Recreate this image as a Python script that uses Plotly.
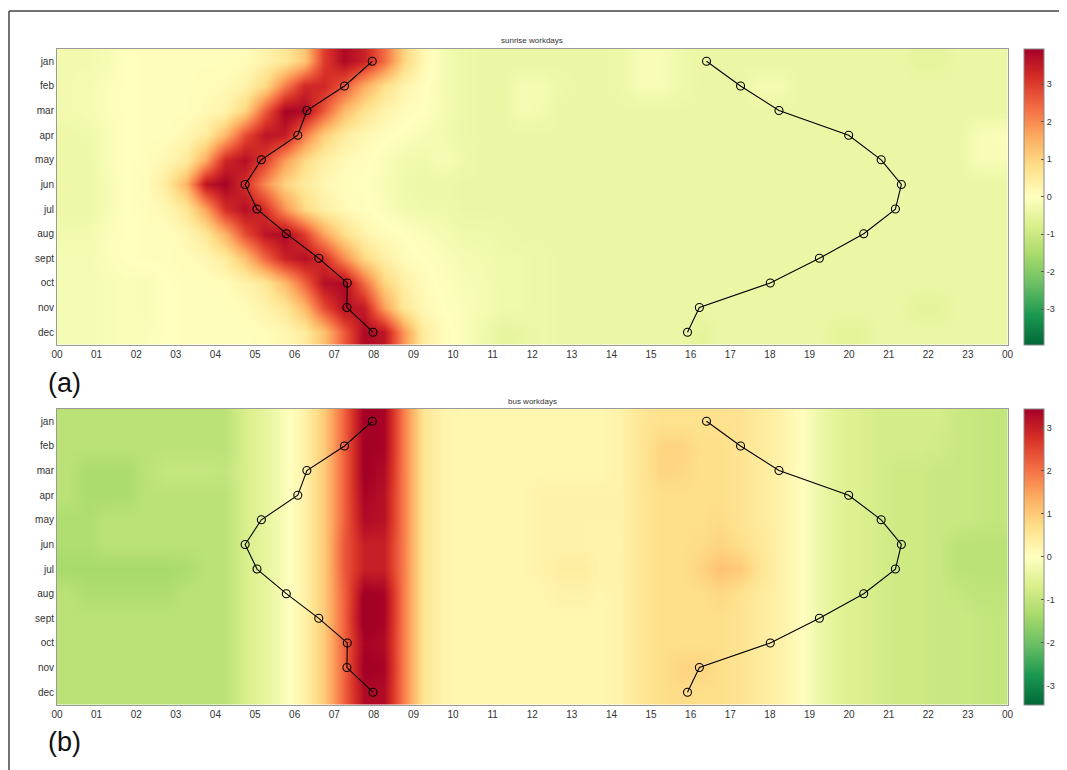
import plotly.graph_objects as go

# ---------------- data ----------------
MONTHS = ["jan", "feb", "mar", "apr", "may", "jun", "jul", "aug", "sept", "oct", "nov", "dec"]
HOUR_TICKS = [0, 1, 2, 3, 4, 5, 6, 7, 8, 9, 10, 11, 12, 13, 14, 15, 16, 17, 18, 19, 20, 21, 22, 23, 24]
HOUR_LABELS = ["00", "01", "02", "03", "04", "05", "06", "07", "08", "09", "10", "11",
               "12", "13", "14", "15", "16", "17", "18", "19", "20", "21", "22", "23", "00"]

SUNRISE = [7.96, 7.26, 6.31, 6.08, 5.16, 4.75, 5.05, 5.79, 6.61, 7.33, 7.32, 7.98]
SUNSET = [16.40, 17.26, 18.23, 19.99, 20.81, 21.32, 21.17, 20.37, 19.25, 18.01, 16.22, 15.92]

CBAR_TICKS = [-3, -2, -1, 0, 1, 2, 3]
CBAR_LABELS = ["-3", "-2", "-1", "0", "1", "2", "3"]

# half-hour cells, starting at 00:00 (12 months x 48 cells)
SUNRISE_Z = [
    [-0.25, -0.25, -0.2, 0.0, 0.05, 0.05, 0.05, 0.05, 0.05, 0.1, 0.3, 0.6, 1.2, 3.0, 3.8, 3.4, 2.4, 1.0, 0.2, -0.2,
     -0.35, -0.4, -0.4, -0.4, -0.4, -0.4, -0.4, -0.4, -0.35, -0.15, -0.15, -0.3,
     -0.4, -0.4, -0.4, -0.4, -0.4, -0.4, -0.4, -0.4, -0.4, -0.4, -0.4, -0.5, -0.5, -0.4, -0.4, -0.4],
    [-0.25, -0.2, -0.1, 0.0, 0.05, 0.05, 0.05, 0.1, 0.15, 0.3, 0.9, 2.2, 3.3, 3.3, 2.6, 1.6, 0.8, 0.3, 0.05, -0.2,
     -0.35, -0.4, -0.4, -0.2, -0.2, -0.35, -0.4, -0.4, -0.35, -0.15, -0.15, -0.3,
     -0.4, -0.4, -0.4, -0.2, -0.2, -0.4, -0.4, -0.4, -0.4, -0.4, -0.4, -0.4, -0.4, -0.4, -0.4, -0.4],
    [-0.25, -0.2, -0.1, 0.0, 0.05, 0.05, 0.05, 0.15, 0.3, 1.0, 2.6, 3.9, 3.8, 2.6, 1.4, 0.7, 0.3, 0.1, 0.0, -0.2,
     -0.35, -0.4, -0.4, -0.2, -0.25, -0.4, -0.4, -0.4, -0.4, -0.4, -0.4, -0.4,
     -0.4, -0.4, -0.4, -0.4, -0.4, -0.4, -0.4, -0.4, -0.4, -0.4, -0.4, -0.4, -0.4, -0.4, -0.4, -0.4],
    [-0.35, -0.3, -0.15, 0.0, 0.05, 0.05, 0.2, 0.5, 1.4, 2.8, 3.6, 3.5, 2.2, 1.1, 0.5, 0.2, 0.05, -0.05, -0.15, -0.25,
     -0.35, -0.4, -0.4, -0.4, -0.4, -0.4, -0.4, -0.4, -0.4, -0.4, -0.4, -0.4,
     -0.4, -0.4, -0.4, -0.4, -0.4, -0.4, -0.4, -0.4, -0.4, -0.4, -0.4, -0.4, -0.4, -0.4, -0.15, -0.1],
    [-0.35, -0.35, -0.15, 0.0, 0.05, 0.2, 0.5, 1.6, 3.3, 3.7, 3.0, 1.8, 0.9, 0.4, 0.15, 0.05, -0.1, -0.25, -0.3, -0.15,
     -0.3, -0.4, -0.4, -0.4, -0.4, -0.4, -0.4, -0.4, -0.4, -0.4, -0.4, -0.4,
     -0.4, -0.4, -0.4, -0.4, -0.4, -0.4, -0.4, -0.4, -0.4, -0.4, -0.4, -0.4, -0.4, -0.4, -0.15, -0.15],
    [-0.35, -0.35, -0.2, 0.0, 0.1, 0.5, 1.5, 3.6, 3.9, 3.2, 2.0, 1.0, 0.5, 0.2, 0.05, 0.0, -0.15, -0.3, -0.35, -0.35,
     -0.4, -0.4, -0.4, -0.4, -0.4, -0.4, -0.4, -0.4, -0.4, -0.4, -0.4, -0.4,
     -0.4, -0.4, -0.4, -0.4, -0.4, -0.4, -0.4, -0.4, -0.4, -0.4, -0.4, -0.4, -0.4, -0.4, -0.4, -0.4],
    [-0.35, -0.35, -0.2, 0.0, 0.05, 0.2, 0.6, 1.7, 3.2, 3.7, 3.2, 1.9, 0.9, 0.4, 0.15, 0.05, -0.1, -0.25, -0.3, -0.3,
     -0.4, -0.4, -0.4, -0.4, -0.4, -0.4, -0.4, -0.4, -0.4, -0.4, -0.4, -0.4,
     -0.4, -0.4, -0.4, -0.4, -0.4, -0.4, -0.4, -0.4, -0.4, -0.4, -0.4, -0.4, -0.4, -0.4, -0.4, -0.4],
    [-0.25, -0.25, -0.1, 0.0, 0.05, 0.05, 0.2, 0.6, 1.5, 2.8, 3.6, 3.8, 3.0, 1.7, 0.8, 0.3, 0.1, 0.0, -0.1, -0.2,
     -0.3, -0.3, -0.35, -0.4, -0.4, -0.4, -0.4, -0.4, -0.4, -0.4, -0.4, -0.4,
     -0.4, -0.4, -0.4, -0.4, -0.4, -0.4, -0.4, -0.4, -0.4, -0.4, -0.4, -0.4, -0.4, -0.4, -0.4, -0.4],
    [-0.2, -0.2, -0.1, 0.0, 0.05, 0.05, 0.1, 0.2, 0.5, 1.3, 2.5, 3.4, 3.7, 3.2, 2.0, 0.9, 0.4, 0.1, 0.0, -0.1,
     -0.2, -0.25, -0.3, -0.3, -0.35, -0.4, -0.4, -0.4, -0.4, -0.4, -0.4, -0.4,
     -0.4, -0.4, -0.4, -0.4, -0.4, -0.4, -0.4, -0.4, -0.4, -0.4, -0.4, -0.4, -0.4, -0.4, -0.4, -0.4],
    [-0.2, -0.2, -0.15, -0.1, -0.15, 0.0, 0.05, 0.05, 0.1, 0.3, 0.6, 1.4, 2.5, 3.7, 3.8, 2.4, 1.0, 0.4, 0.1, -0.05,
     -0.15, -0.2, -0.3, -0.3, -0.35, -0.4, -0.4, -0.4, -0.4, -0.4, -0.4, -0.4,
     -0.4, -0.4, -0.4, -0.4, -0.4, -0.4, -0.4, -0.4, -0.4, -0.4, -0.4, -0.4, -0.4, -0.4, -0.4, -0.4],
    [-0.2, -0.2, -0.15, -0.1, -0.15, 0.0, 0.05, 0.05, 0.05, 0.1, 0.3, 0.6, 1.4, 2.8, 3.7, 3.5, 1.8, 0.6, 0.2, 0.0,
     -0.1, -0.2, -0.3, -0.3, -0.35, -0.4, -0.4, -0.4, -0.4, -0.4, -0.4, -0.4,
     -0.4, -0.4, -0.4, -0.4, -0.4, -0.4, -0.4, -0.4, -0.4, -0.4, -0.4, -0.55, -0.55, -0.4, -0.4, -0.4],
    [-0.2, -0.2, -0.15, -0.1, -0.1, 0.0, 0.05, 0.05, 0.05, 0.05, 0.1, 0.2, 0.5, 1.3, 2.6, 3.8, 3.6, 1.9, 0.5, 0.1,
     -0.1, -0.3, -0.5, -0.45, -0.35, -0.4, -0.4, -0.4, -0.4, -0.4, -0.4, -0.4,
     -0.55, -0.4, -0.4, -0.4, -0.4, -0.4, -0.4, -0.55, -0.55, -0.4, -0.4, -0.4, -0.4, -0.4, -0.4, -0.4],
]

BUS_Z = [
    [-1.1, -1.1, -1.1, -1.1, -1.1, -1.1, -1.1, -1.1, -1.1, -0.7, -0.45, -0.1, 0.3, 1.0, 2.2, 3.5, 3.4, 1.9, 0.6, 0.25,
     0.2, 0.2, 0.2, 0.2, 0.2, 0.2, 0.2, 0.2,
     0.3, 0.55, 0.65, 0.65, 0.65, 0.65, 0.6, 0.45, 0.3, 0.05, -0.3, -0.55, -0.65, -0.75, -0.75, -0.75, -0.75, -0.9, -0.95, -1.0],
    [-1.1, -1.1, -1.1, -1.1, -1.1, -1.1, -1.1, -1.1, -1.1, -0.7, -0.45, -0.1, 0.3, 1.0, 2.2, 3.5, 3.4, 1.9, 0.6, 0.25,
     0.2, 0.2, 0.2, 0.2, 0.2, 0.2, 0.2, 0.2,
     0.3, 0.55, 0.85, 0.85, 0.7, 0.7, 0.6, 0.45, 0.3, 0.05, -0.3, -0.55, -0.65, -0.75, -0.75, -0.75, -0.8, -0.9, -0.95, -1.0],
    [-1.1, -1.3, -1.3, -1.3, -1.1, -0.95, -0.95, -0.95, -1.0, -0.7, -0.45, -0.1, 0.3, 1.0, 2.2, 3.5, 3.3, 1.9, 0.6, 0.25,
     0.2, 0.2, 0.2, 0.2, 0.2, 0.2, 0.2, 0.2,
     0.3, 0.55, 0.85, 0.8, 0.7, 0.7, 0.6, 0.45, 0.3, 0.05, -0.3, -0.55, -0.65, -0.75, -0.85, -0.85, -0.9, -0.9, -0.95, -1.0],
    [-1.1, -1.3, -1.3, -1.3, -1.1, -1.1, -1.1, -1.1, -1.1, -0.7, -0.45, -0.1, 0.3, 1.0, 2.2, 3.4, 3.2, 1.9, 0.6, 0.25,
     0.2, 0.2, 0.2, 0.2, 0.3, 0.3, 0.3, 0.3,
     0.3, 0.55, 0.7, 0.7, 0.7, 0.7, 0.6, 0.45, 0.3, 0.05, -0.3, -0.55, -0.65, -0.75, -0.85, -0.85, -0.9, -0.9, -0.95, -1.0],
    [-1.25, -1.25, -1.1, -1.1, -1.1, -1.1, -1.1, -1.1, -1.1, -0.7, -0.45, -0.1, 0.3, 1.0, 2.2, 3.3, 3.2, 1.9, 0.6, 0.25,
     0.2, 0.2, 0.2, 0.2, 0.3, 0.3, 0.3, 0.3,
     0.3, 0.55, 0.7, 0.7, 0.7, 0.75, 0.6, 0.45, 0.3, 0.05, -0.3, -0.55, -0.65, -0.75, -0.85, -0.85, -0.9, -0.9, -0.95, -1.0],
    [-1.25, -1.25, -1.1, -1.1, -1.1, -1.1, -1.1, -1.1, -1.1, -0.7, -0.45, -0.1, 0.3, 1.0, 2.3, 3.0, 3.0, 1.9, 0.6, 0.25,
     0.2, 0.2, 0.2, 0.2, 0.3, 0.3, 0.3, 0.25,
     0.3, 0.55, 0.7, 0.7, 0.75, 0.85, 0.7, 0.5, 0.3, 0.05, -0.3, -0.55, -0.65, -0.75, -0.85, -0.85, -0.9, -1.1, -1.1, -1.1],
    [-1.35, -1.35, -1.35, -1.35, -1.35, -1.35, -1.3, -1.1, -1.1, -0.7, -0.45, -0.1, 0.3, 1.0, 2.3, 3.0, 3.0, 1.9, 0.6, 0.25,
     0.2, 0.2, 0.2, 0.2, 0.3, 0.4, 0.4, 0.3,
     0.3, 0.55, 0.7, 0.7, 0.85, 1.1, 1.0, 0.6, 0.3, 0.05, -0.3, -0.55, -0.65, -0.75, -0.85, -0.85, -0.9, -1.1, -1.1, -1.1],
    [-1.1, -1.25, -1.25, -1.25, -1.25, -1.25, -1.1, -1.1, -1.1, -0.7, -0.45, -0.1, 0.3, 1.0, 2.2, 3.5, 3.4, 1.9, 0.6, 0.25,
     0.2, 0.2, 0.2, 0.2, 0.2, 0.3, 0.3, 0.2,
     0.3, 0.55, 0.7, 0.7, 0.7, 0.8, 0.65, 0.45, 0.3, 0.05, -0.3, -0.55, -0.65, -0.75, -0.85, -0.85, -0.9, -0.95, -1.05, -1.05],
    [-1.1, -1.1, -1.1, -1.1, -1.1, -1.1, -1.1, -1.1, -1.1, -0.7, -0.45, -0.1, 0.3, 1.0, 2.2, 3.6, 3.4, 1.9, 0.6, 0.25,
     0.2, 0.2, 0.2, 0.2, 0.2, 0.2, 0.2, 0.2,
     0.3, 0.55, 0.7, 0.7, 0.7, 0.7, 0.6, 0.45, 0.3, 0.05, -0.3, -0.55, -0.65, -0.75, -0.85, -0.85, -0.9, -0.9, -0.95, -1.0],
    [-1.1, -1.1, -1.1, -1.1, -1.1, -1.1, -1.1, -1.1, -1.1, -0.7, -0.45, -0.1, 0.3, 1.0, 2.2, 3.4, 3.3, 1.9, 0.6, 0.25,
     0.2, 0.2, 0.2, 0.2, 0.2, 0.2, 0.2, 0.2,
     0.3, 0.55, 0.7, 0.7, 0.7, 0.7, 0.6, 0.45, 0.3, 0.05, -0.3, -0.55, -0.65, -0.75, -0.85, -0.85, -0.9, -0.9, -0.95, -1.0],
    [-1.1, -1.1, -1.1, -1.1, -1.1, -1.1, -1.1, -1.1, -1.1, -0.7, -0.45, -0.1, 0.3, 1.0, 2.2, 3.5, 3.4, 1.9, 0.6, 0.25,
     0.2, 0.2, 0.2, 0.2, 0.2, 0.2, 0.2, 0.2,
     0.3, 0.55, 0.7, 0.85, 0.85, 0.7, 0.6, 0.45, 0.3, 0.05, -0.3, -0.55, -0.65, -0.75, -0.85, -0.85, -0.9, -0.9, -0.95, -1.0],
    [-1.1, -1.1, -1.1, -1.1, -1.1, -1.1, -1.1, -1.1, -1.1, -0.7, -0.45, -0.1, 0.3, 1.0, 2.2, 3.3, 3.3, 1.9, 0.6, 0.25,
     0.2, 0.2, 0.2, 0.2, 0.2, 0.2, 0.2, 0.2,
     0.3, 0.55, 0.7, 0.75, 0.7, 0.7, 0.6, 0.45, 0.3, 0.05, -0.3, -0.55, -0.65, -0.75, -0.85, -0.85, -0.9, -0.9, -0.95, -1.0],
]

# ---------------- styling ----------------
# The page body adds an 8px margin, so the figure is drawn 8px in from the
# window edge; all reference pixel positions are shifted by that offset.
OFF = 8
W, H = 1067 - OFF, 770 - OFF


def px(x):
    return (x - OFF) / W


def py(y):
    return 1 - (y - OFF) / H


COLORSCALE = [
    [0.0, "rgb(0,104,55)"], [0.1, "rgb(26,152,80)"], [0.2, "rgb(102,189,99)"],
    [0.3, "rgb(166,217,106)"], [0.4, "rgb(217,239,139)"], [0.5, "rgb(255,255,191)"],
    [0.6, "rgb(254,224,139)"], [0.7, "rgb(253,174,97)"], [0.8, "rgb(244,109,67)"],
    [0.9, "rgb(215,48,39)"], [1.0, "rgb(165,0,38)"],
]
FONT = "Liberation Sans, Arial, sans-serif"
TXT = "#333333"

XDOM = [px(57), px(1007.5)]
YDOM_A = [py(344.5), py(49)]
YDOM_B = [py(704.5), py(409)]
CB_X = px(1023.5)


def colorbar(dom):
    return dict(
        x=CB_X, xanchor="left", xpad=0, ypad=0,
        y=(dom[0] + dom[1]) / 2, yanchor="middle",
        len=dom[1] - dom[0], lenmode="fraction", thickness=20,
        outlinecolor="#888888", outlinewidth=1,
        tickvals=CBAR_TICKS, ticktext=CBAR_LABELS,
        ticks="inside", ticklen=3, tickcolor="#555555",
        tickfont=dict(size=9, color=TXT, family=FONT),
    )


fig = go.Figure()

for z, zr, xa, ya, dom in [(SUNRISE_Z, 3.95, "x", "y", YDOM_A), (BUS_Z, 3.45, "x2", "y2", YDOM_B)]:
    fig.add_trace(go.Heatmap(
        z=z, x0=0.25, dx=0.5, y=MONTHS, zsmooth="best",
        zmin=-zr, zmax=zr, colorscale=COLORSCALE,
        colorbar=colorbar(dom), xaxis=xa, yaxis=ya, hoverinfo="skip",
    ))
    for series in (SUNRISE, SUNSET):
        fig.add_trace(go.Scatter(
            x=series, y=MONTHS, mode="lines+markers", xaxis=xa, yaxis=ya,
            line=dict(color="black", width=1.1),
            marker=dict(symbol="circle-open", size=8, color="black", line=dict(width=1.1)),
            showlegend=False, hoverinfo="skip",
        ))

axis_common = dict(showline=True, mirror=True, linecolor="#9a9a9a", linewidth=1,
                   showgrid=False, zeroline=False, ticks="", automargin=False,
                   tickfont=dict(size=10, color=TXT, family=FONT))

fig.update_layout(
    width=W, height=H, autosize=False,
    margin=dict(l=0, r=0, t=0, b=0),
    paper_bgcolor="white", plot_bgcolor="white",
    font=dict(family=FONT, color=TXT),
    showlegend=False,
    xaxis=dict(domain=XDOM, anchor="y", range=[0, 24], tickvals=HOUR_TICKS, ticktext=HOUR_LABELS, **axis_common),
    yaxis=dict(domain=YDOM_A, anchor="x", type="category", categoryorder="array", categoryarray=MONTHS,
               range=[11.5, -0.5], **axis_common),
    xaxis2=dict(domain=XDOM, anchor="y2", range=[0, 24], tickvals=HOUR_TICKS, ticktext=HOUR_LABELS, **axis_common),
    yaxis2=dict(domain=YDOM_B, anchor="x2", type="category", categoryorder="array", categoryarray=MONTHS,
                range=[11.5, -0.5], **axis_common),
)

xc = (XDOM[0] + XDOM[1]) / 2
fig.add_annotation(text="sunrise workdays", x=xc, y=py(47.5), xref="paper", yref="paper",
                   xanchor="center", yanchor="bottom", showarrow=False,
                   font=dict(size=8, color=TXT, family=FONT))
fig.add_annotation(text="bus workdays", x=xc, y=py(407.5), xref="paper", yref="paper",
                   xanchor="center", yanchor="bottom", showarrow=False,
                   font=dict(size=8, color=TXT, family=FONT))
fig.add_annotation(text="(a)", x=px(46), y=py(383), xref="paper", yref="paper",
                   xanchor="left", yanchor="middle", showarrow=False,
                   font=dict(size=27, color="#111111", family=FONT))
fig.add_annotation(text="(b)", x=px(46), y=py(742), xref="paper", yref="paper",
                   xanchor="left", yanchor="middle", showarrow=False,
                   font=dict(size=27, color="#111111", family=FONT))

# outer frame of the figure
fig.add_shape(type="line", xref="paper", yref="paper", x0=px(9), x1=1.0, y0=py(11), y1=py(11),
              line=dict(color="#444444", width=1.5))
fig.add_shape(type="line", xref="paper", yref="paper", x0=px(9), x1=px(9), y0=0.0, y1=py(11),
              line=dict(color="#444444", width=1.5))

fig.write_html("out.html")
